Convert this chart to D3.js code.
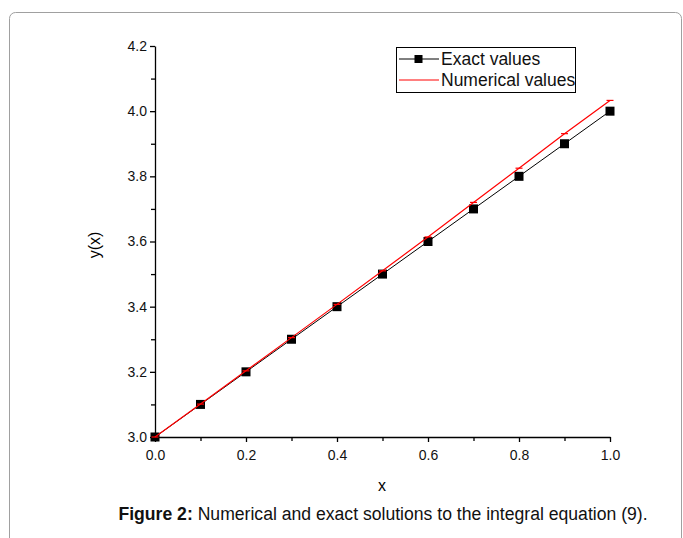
<!DOCTYPE html>
<html>
<head>
<meta charset="utf-8">
<script src="https://cdn.jsdelivr.net/npm/d3@7"></script>
<style>
body{margin:0;background:#fff;font-family:"Liberation Sans",Arial,sans-serif;}
</style>
</head>
<body>
<div class="chart"></div>
<script>
let xs=[0,0.1,0.2,0.3,0.4,0.5,0.6,0.7,0.8,0.9,1.0]
let exactVals=[3.0,3.1,3.2,3.3,3.4,3.5,3.6,3.7,3.8,3.9,4.0]
let numVals=[3.0,3.101,3.203,3.305,3.407,3.51,3.614,3.72,3.825,3.931,4.033]
let xTicks=[0,0.2,0.4,0.6,0.8,1.0]
let yTicks=[3.0,3.2,3.4,3.6,3.8,4.0,4.2]
let seriesNames=['Exact values','Numerical values']

let w=683,h=538
let padL=155,padR=610,padT=46,padB=437
let svg=d3.select('.chart').append('svg').attr('width',w).attr('height',h)

// frame round the figure
svg.append('rect').attr('x',9.5).attr('y',12.5).attr('width',672).attr('height',560)
  .attr('rx',6).attr('fill','none').attr('stroke','#a0a0a0')

let xScale=d3.scaleLinear().domain([0,1]).range([padL,padR])
let yScale=d3.scaleLinear().domain([3.0,4.2]).range([padB,padT])

let fmt=d3.format('.1f')
// minor ticks first
svg.append('g').attr('transform','translate(0,'+padB+')')
  .call(d3.axisBottom(xScale).tickValues(d3.range(0.1,1,0.2)).tickSize(4).tickFormat(''))
  .call(g=>g.select('.domain').remove())
svg.append('g').attr('transform','translate('+padL+',0)')
  .call(d3.axisLeft(yScale).tickValues(d3.range(3.1,4.2,0.2)).tickSize(4).tickFormat(''))
  .call(g=>g.select('.domain').remove())

let xAxis=svg.append('g').attr('transform','translate(0,'+padB+')')
  .call(d3.axisBottom(xScale).tickValues(xTicks).tickSize(5).tickSizeOuter(0).tickPadding(8).tickFormat(fmt))
let yAxis=svg.append('g').attr('transform','translate('+padL+',0)')
  .call(d3.axisLeft(yScale).tickValues(yTicks).tickSize(5).tickSizeOuter(0).tickPadding(3).tickFormat(fmt))
svg.selectAll('.tick text').attr('font-family','Liberation Sans, Arial').attr('font-size',14).attr('fill','#111')
svg.selectAll('.domain,.tick line').attr('stroke','#000').attr('stroke-width',1.3)

let line=d3.line().x((d,i)=>xScale(xs[i])).y(d=>yScale(d))
svg.append('path').datum(exactVals).attr('d',line).attr('fill','none').attr('stroke','#000').attr('stroke-width',1)
svg.selectAll('rect.mk').data(exactVals).enter().append('rect').attr('class','mk')
  .attr('x',(d,i)=>xScale(xs[i])-4.5).attr('y',d=>yScale(d)-4.5).attr('width',9).attr('height',9).attr('fill','#000')

svg.append('path').datum(numVals).attr('d',line).attr('fill','none').attr('stroke','#ff0000').attr('stroke-width',1.2)
svg.selectAll('line.nm').data(numVals).enter().append('line').attr('class','nm')
  .attr('x1',(d,i)=>xScale(xs[i])-3.5).attr('x2',(d,i)=>xScale(xs[i])+3.5)
  .attr('y1',d=>yScale(d)).attr('y2',d=>yScale(d)).attr('stroke','#ff0000').attr('stroke-width',1.2)

// legend
let lg=svg.append('g').attr('transform','translate(396,47)')
lg.append('rect').attr('x',0.5).attr('y',0.5).attr('width',179).attr('height',45).attr('fill','#fff').attr('stroke','#000')
lg.append('line').attr('x1',3).attr('x2',43).attr('y1',12).attr('y2',12).attr('stroke','#000')
lg.append('rect').attr('x',18.5).attr('y',8).attr('width',8).attr('height',8).attr('fill','#000')
lg.append('line').attr('x1',3).attr('x2',43).attr('y1',33).attr('y2',33).attr('stroke','#ff0000')
lg.selectAll('text').data(seriesNames).enter().append('text')
  .attr('x',45).attr('y',(d,i)=>18+i*21).text(d=>d)
  .attr('font-size',17.5).attr('font-family','Liberation Sans, Arial').attr('fill','#111')

svg.append('text').text('x').attr('x',382).attr('y',491).attr('text-anchor','middle')
  .attr('font-size',16).attr('font-family','Liberation Sans, Arial')
svg.append('text').text('y(x)').attr('transform','translate(100,245) rotate(-90)').attr('text-anchor','middle')
  .attr('font-size',16).attr('font-family','Liberation Sans, Arial')

let cap=svg.append('text').attr('x',383).attr('y',520).attr('text-anchor','middle')
  .attr('font-size',17.6).attr('font-family','Liberation Sans, Arial').attr('fill','#111')
cap.append('tspan').attr('font-weight','bold').text('Figure 2:')
cap.append('tspan').text(' Numerical and exact solutions to the integral equation (9).')
</script>
</body>
</html>
